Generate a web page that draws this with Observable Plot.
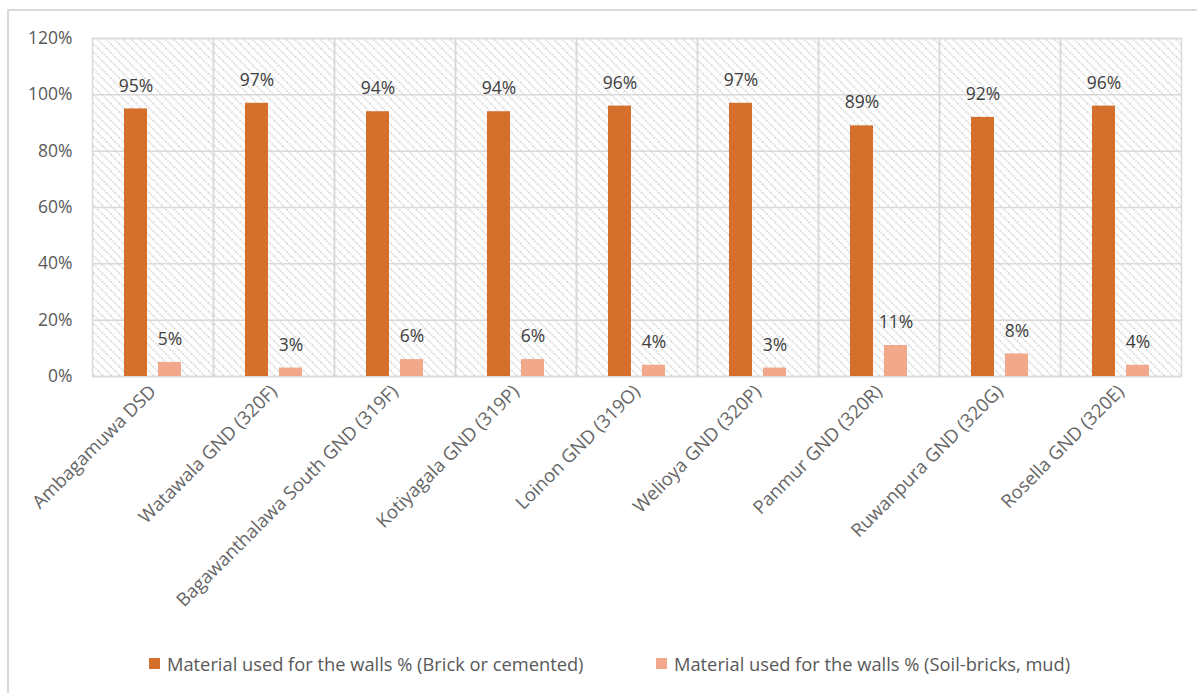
<!DOCTYPE html>
<html>
<head>
<meta charset="utf-8">
<script src="https://cdn.jsdelivr.net/npm/d3@7"></script>
<script src="https://cdn.jsdelivr.net/npm/@observablehq/plot@0.6"></script>
<style>
  html, body { margin: 0; padding: 0; background: #fff; }
  body { width: 1197px; height: 693px; position: relative; overflow: hidden; font-family: "Open Sans", sans-serif; }
  #border { position: absolute; left: 7px; top: 9px; width: 1300px; height: 800px; border-left: 2px solid #d9d9d9; border-top: 2px solid #d9d9d9; }
  #chart { position: absolute; left: 0; top: 0; }
  #legend { position: absolute; left: 0; top: 648px; width: 1197px; height: 30px; }
  .item { position: absolute; top: 0; display: flex; align-items: center; height: 30px; font-size: 18.3px; color: #595959; white-space: nowrap; }
  .sw { width: 11px; height: 11px; margin-right: 7px; }
</style>
</head>
<body>
<div id="border"></div>
<div id="chart"></div>
<div id="legend"></div>
<script>
const categories = [
  "Ambagamuwa DSD",
  "Watawala GND (320F)",
  "Bagawanthalawa South GND (319F)",
  "Kotiyagala GND (319P)",
  "Loinon GND (319O)",
  "Welioya GND (320P)",
  "Panmur GND (320R)",
  "Ruwanpura GND (320G)",
  "Rosella GND (320E)"
];
const brick = [95, 97, 94, 94, 96, 97, 89, 92, 96];
const soil = [5, 3, 6, 6, 4, 3, 11, 8, 4];
const seriesNames = [
  "Material used for the walls % (Brick or cemented)",
  "Material used for the walls % (Soil-bricks, mud)"
];
const seriesColors = ["#D46F2C", "#F2A88B"];
const yTicks = [0, 20, 40, 60, 80, 100, 120];

const data = categories.flatMap((c, i) => [
  {cat: c, s: seriesNames[0], v: brick[i]},
  {cat: c, s: seriesNames[1], v: soil[i]}
]);

const plot = Plot.plot({
  width: 1197,
  height: 645,
  marginLeft: 92,
  marginRight: 16,
  marginTop: 38,
  marginBottom: 269,
  style: {fontFamily: "Open Sans, sans-serif", background: "transparent"},
  fx: {domain: categories, padding: 0, label: null},
  x: {domain: seriesNames, paddingInner: 0.3235, paddingOuter: 0.941, axis: null},
  y: {domain: [0, 120], label: null},
  color: {domain: seriesNames, range: seriesColors},
  marks: [
    Plot.frame({fill: "url(#hatch)", stroke: null}),
    Plot.gridY(yTicks, {stroke: "#d9d9d9", strokeOpacity: 1, strokeWidth: 1.5}),
    Plot.frame({stroke: "#d9d9d9", strokeWidth: 1.5}),
    Plot.barY(data, {fx: "cat", x: "s", y: "v", fill: "s"}),
    Plot.text(data, {fx: "cat", x: "s", y: "v", text: d => d.v + "%", dy: -23, fill: "#404040", fontSize: 17.5}),
    Plot.axisY(yTicks, {tickSize: 0, tickPadding: 20, fontSize: 17.5, fill: "#595959", tickFormat: d => d + "%"}),
    Plot.axisFx({anchor: "bottom", tickRotate: -45, tickSize: 0, tickPadding: 12, fontSize: 18.5, fill: "#666666", label: null})
  ]
});

// hatch pattern for plot background
const defs = d3.select(plot).insert("defs", ":first-child");
const pat = defs.append("pattern")
  .attr("id", "hatch")
  .attr("patternUnits", "userSpaceOnUse")
  .attr("width", 6).attr("height", 6)
  .attr("patternTransform", "rotate(45)");
pat.append("rect").attr("width", 6).attr("height", 6).attr("fill", "#ffffff");
pat.append("rect").attr("x", 0).attr("y", 0).attr("width", 2).attr("height", 1.6).attr("fill", "#d3d3d3");
pat.append("rect").attr("x", 3).attr("y", 0).attr("width", 2).attr("height", 1.6).attr("fill", "#e0e0e0");

document.getElementById("chart").appendChild(plot);

// legend
const legend = d3.select("#legend");
const lefts = [149, 656];
seriesNames.forEach((name, i) => {
  const it = legend.append("div").attr("class", "item").style("left", lefts[i] + "px");
  it.append("div").attr("class", "sw").style("background", seriesColors[i]);
  it.append("span").text(name);
});
</script>
</body>
</html>
